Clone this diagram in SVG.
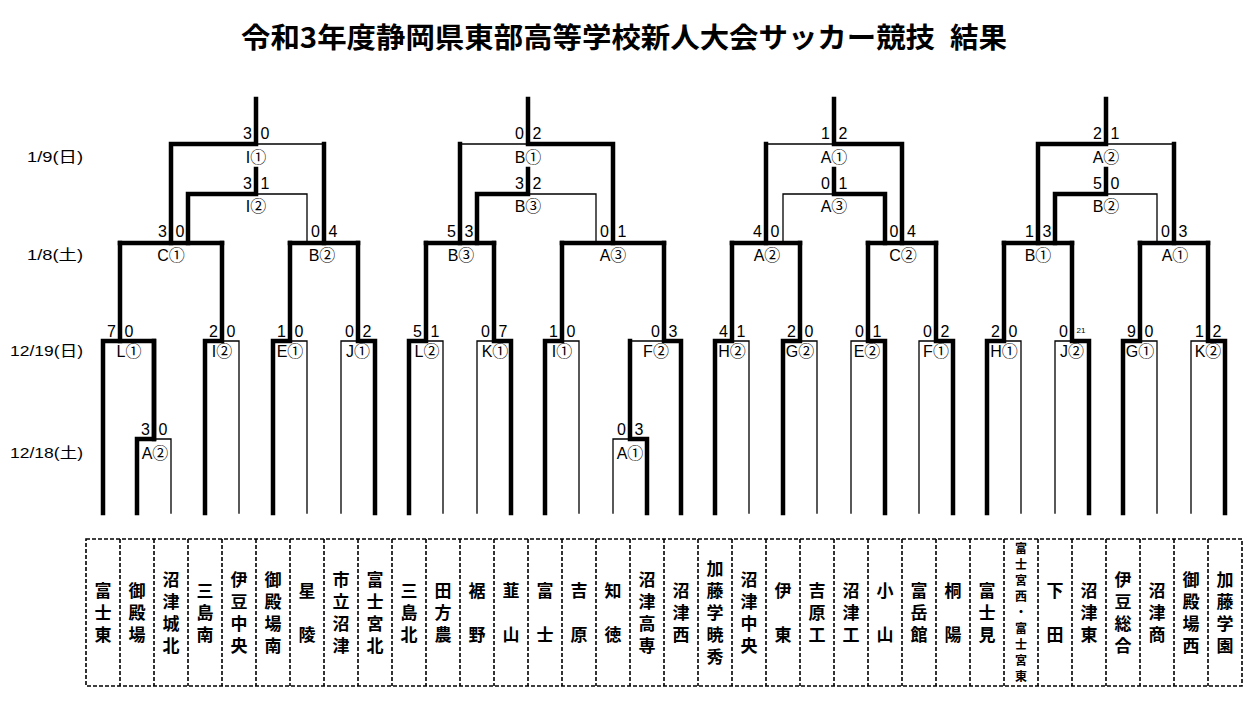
<svg xmlns="http://www.w3.org/2000/svg" width="1254" height="711" viewBox="0 0 1254 711">
<style>
.bg{fill:#fff}
.k{fill:none;stroke:#000;stroke-width:4.5;stroke-linecap:square;stroke-linejoin:miter}
.t{fill:none;stroke:#000;stroke-width:1.3;stroke-linecap:square}
.box{fill:none;stroke:#000;stroke-width:1.6;stroke-dasharray:4 2}
.title{font-family:"Noto Sans CJK JP","Noto Sans CJK SC",sans-serif;font-weight:bold;font-size:28px;fill:#000}
.date{font-family:"Liberation Sans","Noto Sans CJK JP",sans-serif;font-size:15px;fill:#000}
.sc{font-family:"Liberation Sans",Arial,sans-serif;font-size:16px;fill:#000;text-anchor:middle}
.lb{font-family:"Liberation Sans","Noto Sans CJK JP",sans-serif;font-size:16px;fill:#000;text-anchor:middle}
.tn{font-family:"Noto Sans CJK JP","Noto Sans CJK SC",sans-serif;font-weight:bold;font-size:17px;letter-spacing:5px;fill:#000;text-anchor:middle;writing-mode:vertical-rl}
.tns{font-family:"Noto Sans CJK JP","Noto Sans CJK SC",sans-serif;font-weight:bold;font-size:12px;letter-spacing:4px;fill:#000;text-anchor:middle;writing-mode:vertical-rl}
</style>
<rect class="bg" x="0" y="0" width="1254" height="711"/>
<g id="title">
<text class="title" x="241" y="48" textLength="694" lengthAdjust="spacingAndGlyphs">令和3年度静岡県東部高等学校新人大会サッカー競技</text>
<text class="title" x="950" y="48" textLength="57" lengthAdjust="spacingAndGlyphs">結果</text>
</g>
<g id="dates">
<text class="date" x="27" y="162" textLength="56" lengthAdjust="spacingAndGlyphs">1/9(日)</text>
<text class="date" x="27" y="260" textLength="56" lengthAdjust="spacingAndGlyphs">1/8(土)</text>
<text class="date" x="10" y="356" textLength="73" lengthAdjust="spacingAndGlyphs">12/19(日)</text>
<text class="date" x="10" y="458" textLength="73" lengthAdjust="spacingAndGlyphs">12/18(土)</text>
</g>
<g id="connectors">
<path class="k" d="M137,513 V439 H154 V341"/>
<path class="t" d="M154,439 H171 V513"/>
<path class="k" d="M647,513 V439 H630 V341"/>
<path class="t" d="M630,439 H613 V513"/>
<path class="k" d="M103,513 V341 H154 V439"/>
<path class="k" d="M120,341 V243"/>
<path class="k" d="M205,513 V341 H222 V243"/>
<path class="t" d="M222,341 H239 V513"/>
<path class="k" d="M273,513 V341 H290 V243"/>
<path class="t" d="M290,341 H307 V513"/>
<path class="k" d="M375,513 V341 H358 V243"/>
<path class="t" d="M358,341 H341 V513"/>
<path class="k" d="M409,513 V341 H426 V243"/>
<path class="t" d="M426,341 H443 V513"/>
<path class="k" d="M511,513 V341 H494 V243"/>
<path class="t" d="M494,341 H477 V513"/>
<path class="k" d="M545,513 V341 H562 V243"/>
<path class="t" d="M562,341 H579 V513"/>
<path class="k" d="M681,513 V341 H664 V243"/>
<path class="t" d="M664,341 H630"/>
<path class="k" d="M715,513 V341 H732 V243"/>
<path class="t" d="M732,341 H749 V513"/>
<path class="k" d="M783,513 V341 H800 V243"/>
<path class="t" d="M800,341 H817 V513"/>
<path class="k" d="M885,513 V341 H868 V243"/>
<path class="t" d="M868,341 H851 V513"/>
<path class="k" d="M953,513 V341 H936 V243"/>
<path class="t" d="M936,341 H919 V513"/>
<path class="k" d="M987,513 V341 H1004 V243"/>
<path class="t" d="M1004,341 H1021 V513"/>
<path class="k" d="M1089,513 V341 H1072 V243"/>
<path class="t" d="M1072,341 H1055 V513"/>
<path class="k" d="M1123,513 V341 H1140 V243"/>
<path class="t" d="M1140,341 H1157 V513"/>
<path class="k" d="M1225,513 V341 H1208 V243"/>
<path class="t" d="M1208,341 H1191 V513"/>
<path class="k" d="M120,243 H222"/>
<path class="k" d="M290,243 H358"/>
<path class="k" d="M426,243 H494"/>
<path class="k" d="M562,243 H664"/>
<path class="k" d="M732,243 H800"/>
<path class="k" d="M868,243 H936"/>
<path class="k" d="M1004,243 H1072"/>
<path class="k" d="M1140,243 H1208"/>
<path class="k" d="M171,243 V144 H256 V99"/>
<path class="t" d="M256,144 H324"/>
<path class="k" d="M324,243 V144"/>
<path class="k" d="M188,243 V194 H256 V169"/>
<path class="t" d="M256,194 H307 V243"/>
<path class="k" d="M460,243 V144"/>
<path class="t" d="M460,144 H528"/>
<path class="k" d="M613,243 V144 H528 V99"/>
<path class="k" d="M477,243 V194 H528 V169"/>
<path class="t" d="M528,194 H596 V243"/>
<path class="k" d="M766,243 V144"/>
<path class="t" d="M766,144 H834"/>
<path class="k" d="M902,243 V144 H834 V99"/>
<path class="t" d="M783,243 V194 H834"/>
<path class="k" d="M885,243 V194 H834 V169"/>
<path class="k" d="M1038,243 V144 H1106 V99"/>
<path class="t" d="M1106,144 H1174"/>
<path class="k" d="M1174,243 V144"/>
<path class="k" d="M1055,243 V194 H1106 V169"/>
<path class="t" d="M1106,194 H1157 V243"/>
</g>
<g id="matches">
<g id="m-I1"><text class="sc" x="247.5" y="139">3</text><text class="sc" x="265" y="139">0</text><text class="lb" x="256" y="163">I①</text></g>
<g id="m-I2"><text class="sc" x="247.5" y="188.5">3</text><text class="sc" x="265" y="188.5">1</text><text class="lb" x="256" y="212">I②</text></g>
<g id="m-B1f"><text class="sc" x="519.5" y="139">0</text><text class="sc" x="537" y="139">2</text><text class="lb" x="528" y="163">B①</text></g>
<g id="m-B3f"><text class="sc" x="519.5" y="188.5">3</text><text class="sc" x="537" y="188.5">2</text><text class="lb" x="528" y="212">B③</text></g>
<g id="m-A1f"><text class="sc" x="825.5" y="139">1</text><text class="sc" x="843" y="139">2</text><text class="lb" x="834" y="163">A①</text></g>
<g id="m-A3f"><text class="sc" x="825.5" y="188.5">0</text><text class="sc" x="843" y="188.5">1</text><text class="lb" x="834" y="212">A③</text></g>
<g id="m-A2f"><text class="sc" x="1097.5" y="139">2</text><text class="sc" x="1115" y="139">1</text><text class="lb" x="1106" y="163">A②</text></g>
<g id="m-B2f"><text class="sc" x="1097.5" y="188.5">5</text><text class="sc" x="1115" y="188.5">0</text><text class="lb" x="1106" y="212">B②</text></g>
<g id="m-C1"><text class="sc" x="162.5" y="237">3</text><text class="sc" x="180" y="237">0</text><text class="lb" x="171" y="261">C①</text></g>
<g id="m-B2"><text class="sc" x="315.5" y="237">0</text><text class="sc" x="333" y="237">4</text><text class="lb" x="322" y="261">B②</text></g>
<g id="m-B3"><text class="sc" x="451.5" y="237">5</text><text class="sc" x="469" y="237">3</text><text class="lb" x="461" y="261">B③</text></g>
<g id="m-A3"><text class="sc" x="604.5" y="237">0</text><text class="sc" x="622" y="237">1</text><text class="lb" x="613" y="261">A③</text></g>
<g id="m-A2"><text class="sc" x="757.5" y="237">4</text><text class="sc" x="775" y="237">0</text><text class="lb" x="767" y="261">A②</text></g>
<g id="m-C2"><text class="sc" x="894" y="237">0</text><text class="sc" x="911.5" y="237">4</text><text class="lb" x="903" y="261">C②</text></g>
<g id="m-B1"><text class="sc" x="1029.5" y="237">1</text><text class="sc" x="1047" y="237">3</text><text class="lb" x="1038" y="261">B①</text></g>
<g id="m-A1"><text class="sc" x="1165.5" y="237">0</text><text class="sc" x="1183" y="237">3</text><text class="lb" x="1175" y="261">A①</text></g>
<g id="m-L1"><text class="sc" x="111.5" y="337">7</text><text class="sc" x="129" y="337">0</text><text class="lb" x="129" y="357">L①</text></g>
<g id="m-I2r"><text class="sc" x="213.5" y="337">2</text><text class="sc" x="231" y="337">0</text><text class="lb" x="222" y="357">I②</text></g>
<g id="m-E1"><text class="sc" x="281.5" y="337">1</text><text class="sc" x="299" y="337">0</text><text class="lb" x="290" y="357">E①</text></g>
<g id="m-J1"><text class="sc" x="349.5" y="337">0</text><text class="sc" x="367" y="337">2</text><text class="lb" x="358" y="357">J①</text></g>
<g id="m-L2"><text class="sc" x="417.5" y="337">5</text><text class="sc" x="435" y="337">1</text><text class="lb" x="427" y="357">L②</text></g>
<g id="m-K1"><text class="sc" x="485.5" y="337">0</text><text class="sc" x="503" y="337">7</text><text class="lb" x="495" y="357">K①</text></g>
<g id="m-I1r"><text class="sc" x="553.5" y="337">1</text><text class="sc" x="571" y="337">0</text><text class="lb" x="562" y="357">I①</text></g>
<g id="m-F2"><text class="sc" x="655.5" y="337">0</text><text class="sc" x="673" y="337">3</text><text class="lb" x="656" y="357">F②</text></g>
<g id="m-H2"><text class="sc" x="723.5" y="337">4</text><text class="sc" x="741" y="337">1</text><text class="lb" x="732" y="357">H②</text></g>
<g id="m-G2"><text class="sc" x="791.5" y="337">2</text><text class="sc" x="809" y="337">0</text><text class="lb" x="800" y="357">G②</text></g>
<g id="m-E2"><text class="sc" x="859.5" y="337">0</text><text class="sc" x="877" y="337">1</text><text class="lb" x="867" y="357">E②</text></g>
<g id="m-F1"><text class="sc" x="927.5" y="337">0</text><text class="sc" x="945" y="337">2</text><text class="lb" x="936" y="357">F①</text></g>
<g id="m-H1"><text class="sc" x="995.5" y="337">2</text><text class="sc" x="1013" y="337">0</text><text class="lb" x="1004" y="357">H①</text></g>
<g id="m-J2"><text class="sc" x="1063.5" y="337">0</text><text class="sc" x="1081" y="333" style="font-size:8px">21</text><text class="lb" x="1072" y="357">J②</text></g>
<g id="m-G1"><text class="sc" x="1131.5" y="337">9</text><text class="sc" x="1149" y="337">0</text><text class="lb" x="1140" y="357">G①</text></g>
<g id="m-K2"><text class="sc" x="1199.5" y="337">1</text><text class="sc" x="1217" y="337">2</text><text class="lb" x="1208" y="357">K②</text></g>
<g id="m-A2r"><text class="sc" x="145.5" y="435">3</text><text class="sc" x="163" y="435">0</text><text class="lb" x="155" y="459">A②</text></g>
<g id="m-A1r"><text class="sc" x="621.5" y="435">0</text><text class="sc" x="639" y="435">3</text><text class="lb" x="630" y="459">A①</text></g>
</g>
<g id="team-boxes">
<rect class="box" x="86" y="539" width="1156" height="147"/>
<path class="box" d="M120,539V686M154,539V686M188,539V686M222,539V686M256,539V686M290,539V686M324,539V686M358,539V686M392,539V686M426,539V686M460,539V686M494,539V686M528,539V686M562,539V686M596,539V686M630,539V686M664,539V686M698,539V686M732,539V686M766,539V686M800,539V686M834,539V686M868,539V686M902,539V686M936,539V686M970,539V686M1004,539V686M1038,539V686M1072,539V686M1106,539V686M1140,539V686M1174,539V686M1208,539V686"/>
</g>
<g id="teams">
<g id="team-0"><text class="tn" x="103" y="615">富士東</text></g>
<g id="team-1"><text class="tn" x="137" y="615">御殿場</text></g>
<g id="team-2"><text class="tn" x="171" y="615">沼津城北</text></g>
<g id="team-3"><text class="tn" x="205" y="615">三島南</text></g>
<g id="team-4"><text class="tn" x="239" y="615">伊豆中央</text></g>
<g id="team-5"><text class="tn" x="273" y="615">御殿場南</text></g>
<g id="team-6"><text class="tn" x="307" y="615">星　陵</text></g>
<g id="team-7"><text class="tn" x="341" y="615">市立沼津</text></g>
<g id="team-8"><text class="tn" x="375" y="615">富士宮北</text></g>
<g id="team-9"><text class="tn" x="409" y="615">三島北</text></g>
<g id="team-10"><text class="tn" x="443" y="615">田方農</text></g>
<g id="team-11"><text class="tn" x="477" y="615">裾　野</text></g>
<g id="team-12"><text class="tn" x="511" y="615">韮　山</text></g>
<g id="team-13"><text class="tn" x="545" y="615">富　士</text></g>
<g id="team-14"><text class="tn" x="579" y="615">吉　原</text></g>
<g id="team-15"><text class="tn" x="613" y="615">知　徳</text></g>
<g id="team-16"><text class="tn" x="647" y="615">沼津高専</text></g>
<g id="team-17"><text class="tn" x="681" y="615">沼津西</text></g>
<g id="team-18"><text class="tn" x="715" y="615">加藤学暁秀</text></g>
<g id="team-19"><text class="tn" x="749" y="615">沼津中央</text></g>
<g id="team-20"><text class="tn" x="783" y="615">伊　東</text></g>
<g id="team-21"><text class="tn" x="817" y="615">吉原工</text></g>
<g id="team-22"><text class="tn" x="851" y="615">沼津工</text></g>
<g id="team-23"><text class="tn" x="885" y="615">小　山</text></g>
<g id="team-24"><text class="tn" x="919" y="615">富岳館</text></g>
<g id="team-25"><text class="tn" x="953" y="615">桐　陽</text></g>
<g id="team-26"><text class="tn" x="987" y="615">富士見</text></g>
<g id="team-27"><text class="tns" x="1021" y="614.5">富士宮西・富士宮東</text></g>
<g id="team-28"><text class="tn" x="1055" y="615">下　田</text></g>
<g id="team-29"><text class="tn" x="1089" y="615">沼津東</text></g>
<g id="team-30"><text class="tn" x="1123" y="615">伊豆総合</text></g>
<g id="team-31"><text class="tn" x="1157" y="615">沼津商</text></g>
<g id="team-32"><text class="tn" x="1191" y="615">御殿場西</text></g>
<g id="team-33"><text class="tn" x="1225" y="615">加藤学園</text></g>
</g>
</svg>
